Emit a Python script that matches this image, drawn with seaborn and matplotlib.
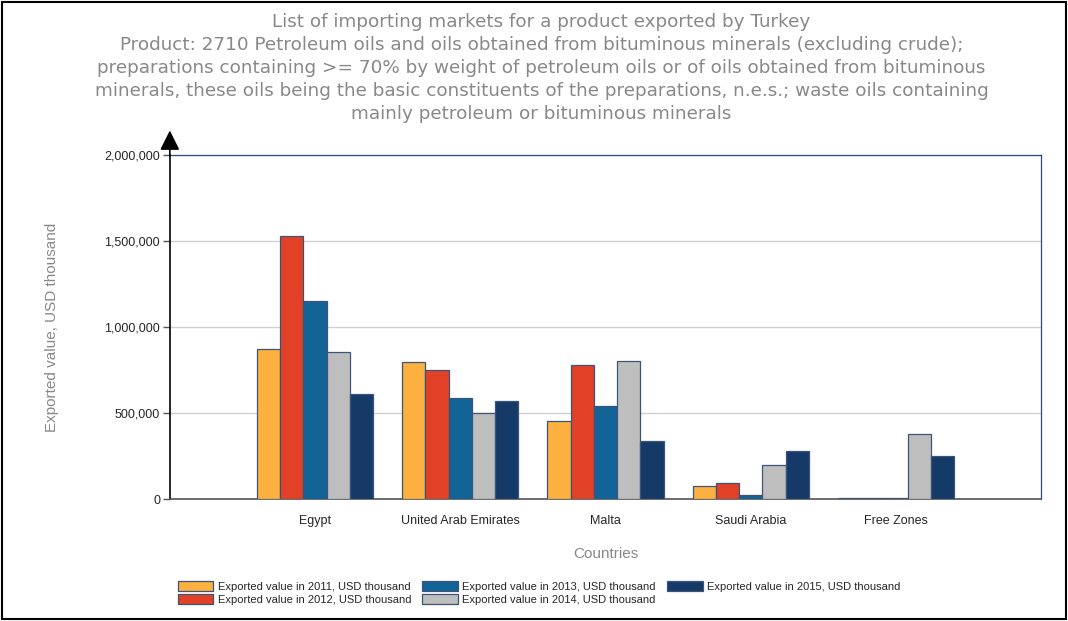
import matplotlib
matplotlib.use("Agg")
import matplotlib.pyplot as plt
import matplotlib.ticker as mticker
from matplotlib.patches import Rectangle
import pandas as pd
import seaborn as sns

countries = ["Egypt", "United Arab Emirates", "Malta", "Saudi Arabia", "Free Zones"]
years = ["2011", "2012", "2013", "2014", "2015"]
v2011 = [873000, 798000, 455000, 78000, 10000]
v2012 = [1528000, 753000, 778000, 92000, 8000]
v2013 = [1154000, 590000, 540000, 22000, 10000]
v2014 = [859000, 501000, 803000, 197000, 377000]
v2015 = [612000, 573000, 336000, 280000, 249000]
colors = ["#FBB040", "#E04127", "#136496", "#BEBEBE", "#163A68"]

title = ("List of importing markets for a product exported by Turkey\n"
         "Product: 2710 Petroleum oils and oils obtained from bituminous minerals (excluding crude);\n"
         "preparations containing >= 70% by weight of petroleum oils or of oils obtained from bituminous\n"
         "minerals, these oils being the basic constituents of the preparations, n.e.s.; waste oils containing\n"
         "mainly petroleum or bituminous minerals")

rows = []
for yr, vals in zip(years, [v2011, v2012, v2013, v2014, v2015]):
    for c, v in zip(countries, vals):
        rows.append({"country": c, "series": f"Exported value in {yr}, USD thousand", "value": v})
df = pd.DataFrame(rows)

sns.set_style("white")
plt.rcParams["font.family"] = ["Liberation Sans", "DejaVu Sans"]

fig = plt.figure(figsize=(10.68, 6.21), dpi=100)
ax = fig.add_axes([0.159, 0.196, 0.816, 0.554])

sns.barplot(data=df, x="country", y="value", hue="series", palette=colors,
            saturation=1, width=0.8, edgecolor="#3B5478", linewidth=0.9, ax=ax, zorder=3)

ax.set_xlim(-1, 5)
ax.set_ylim(0, 2000000)
ax.yaxis.set_major_locator(mticker.MultipleLocator(500000))
ax.yaxis.set_major_formatter(mticker.FuncFormatter(lambda v, p: f"{int(v):,}"))
ax.grid(axis="y", color="#d0d0d0", lw=1, zorder=0)
ax.tick_params(axis="y", left=True, length=5, width=1, color="#555555", labelsize=9, pad=2)
ax.tick_params(axis="x", bottom=False, labelsize=9, pad=8)

for s in ["top", "right"]:
    ax.spines[s].set_color("#2a4a78")
    ax.spines[s].set_linewidth(0.9)
ax.spines["left"].set_color("black")
ax.spines["left"].set_linewidth(1.2)
ax.spines["bottom"].set_color("#555555")
ax.spines["bottom"].set_linewidth(1.2)

ax.annotate("", xy=(0, 1.08), xytext=(0, 0.99), xycoords="axes fraction",
            arrowprops=dict(arrowstyle="-|>", color="black", lw=1.2, mutation_scale=30))

ax.set_xlabel("Countries", color="#888888", fontsize=11, labelpad=14)
ax.set_ylabel("Exported value, USD thousand", color="#888888", fontsize=11, labelpad=33)

fig.text(0.507, 0.979, title, ha="center", va="top", color="#888888", fontsize=13.2,
         linespacing=1.36, family="DejaVu Sans")

leg = ax.legend(loc="upper left", bbox_to_anchor=(0.004, -0.225), ncol=3, frameon=False,
                fontsize=8, handlelength=3.2, handleheight=1.0, columnspacing=1.0,
                labelspacing=0.2, handletextpad=0.4, borderaxespad=0)

fig.patches.append(Rectangle((0.002, 0.003), 0.996, 0.994, transform=fig.transFigure,
                             fill=False, edgecolor="black", lw=1.5))

fig.savefig("out.png", dpi=100)
